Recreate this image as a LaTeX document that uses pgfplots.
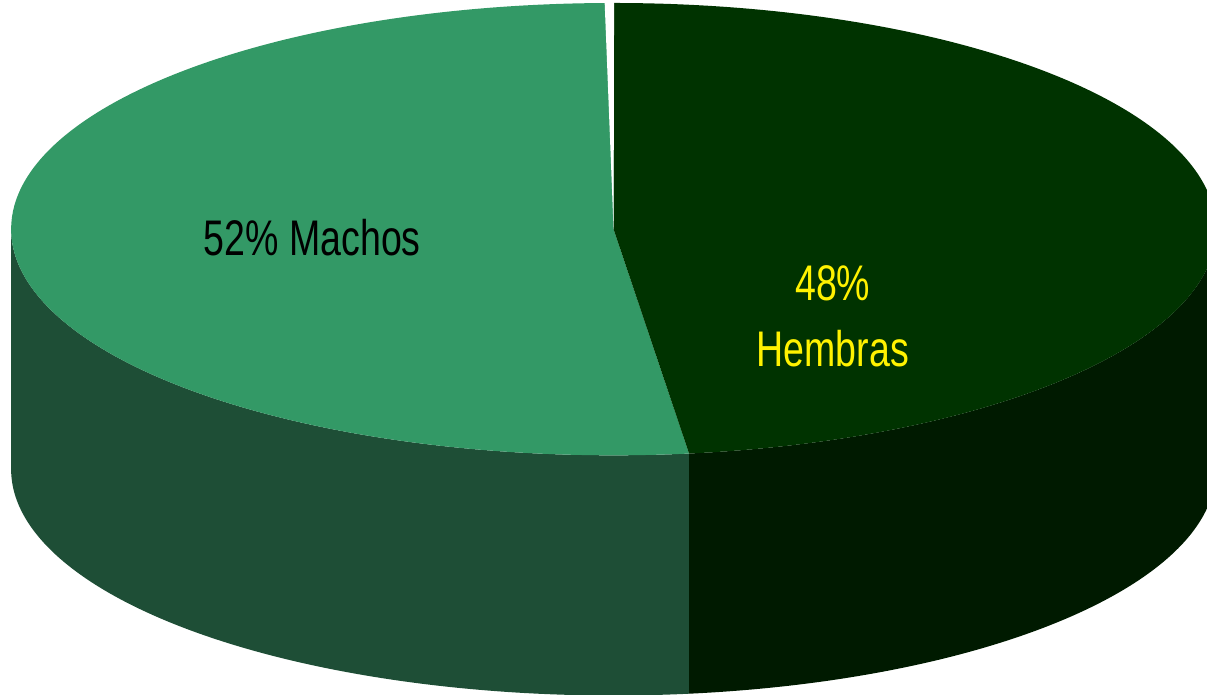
\documentclass[border=0pt]{standalone}
\usepackage{pgfplots}
\pgfplotsset{compat=1.18}
\usepackage{pgfplotstable}
\usepackage{fontspec}
\setmainfont{Liberation Sans}
\newfontfamily\narrow[FakeStretch=0.75]{Liberation Sans}

\definecolor{machotop}{HTML}{339966}
\definecolor{machoside}{HTML}{1E4E36}
\definecolor{hembratop}{HTML}{003300}
\definecolor{hembraside}{HTML}{001A00}

\pgfplotstableread{
label value
Machos 52
Hembras 48
}\piedata

\begin{document}
\pgfplotstablegetelem{1}{value}\of\piedata
\let\vH\pgfplotsretval
\pgfmathsetmacro\angH{90-3.6*\vH}
\pgfmathsetmacro\angHH{360+\angH}
\begin{tikzpicture}
\begin{axis}[
    hide axis,
    scale only axis,
    width=603.5pt, height=349pt,
    xmin=0, xmax=1207, ymin=0, ymax=698,
    clip=true,
]
% pie centre; radii 301pt x 113pt (0.5pt per pixel), depth 120pt
\coordinate (C) at (axis cs:614,465);
% sides
\fill[machoside] (C) ++(180:301pt and 113pt)
    arc[start angle=180, end angle=\angHH, x radius=301pt, y radius=113pt]
    -- ++(0,-120pt)
    arc[start angle=\angHH, end angle=180, x radius=301pt, y radius=113pt]
    -- cycle;
\fill[hembraside] (C) ++(\angH:301pt and 113pt)
    arc[start angle=\angH, end angle=0, x radius=301pt, y radius=113pt]
    -- ++(0,-120pt)
    arc[start angle=0, end angle=\angH, x radius=301pt, y radius=113pt]
    -- cycle;
% tops
\fill[machotop] (C) -- ++(90:301pt and 113pt)
    arc[start angle=90, end angle=\angHH, x radius=301pt, y radius=113pt]
    -- cycle;
\fill[hembratop] (C) -- ++(\angH:301pt and 113pt)
    arc[start angle=\angH, end angle=90, x radius=301pt, y radius=113pt]
    -- cycle;
% small gap between the slices at the back
\fill[white] (axis cs:614,465) -- (axis cs:605,694) -- (axis cs:614.5,694) -- cycle;
% labels
\node[black, inner sep=0pt] at (axis cs:313,457)
    {\narrow\fontsize{25}{30}\selectfont 52\% Machos};
\node[yellow, inner sep=0pt] at (axis cs:833,411)
    {\narrow\fontsize{25}{30}\selectfont 48\%};
\node[yellow, inner sep=0pt] at (axis cs:833,346)
    {\narrow\fontsize{25}{30}\selectfont Hembras};
\end{axis}
\end{tikzpicture}
\end{document}
